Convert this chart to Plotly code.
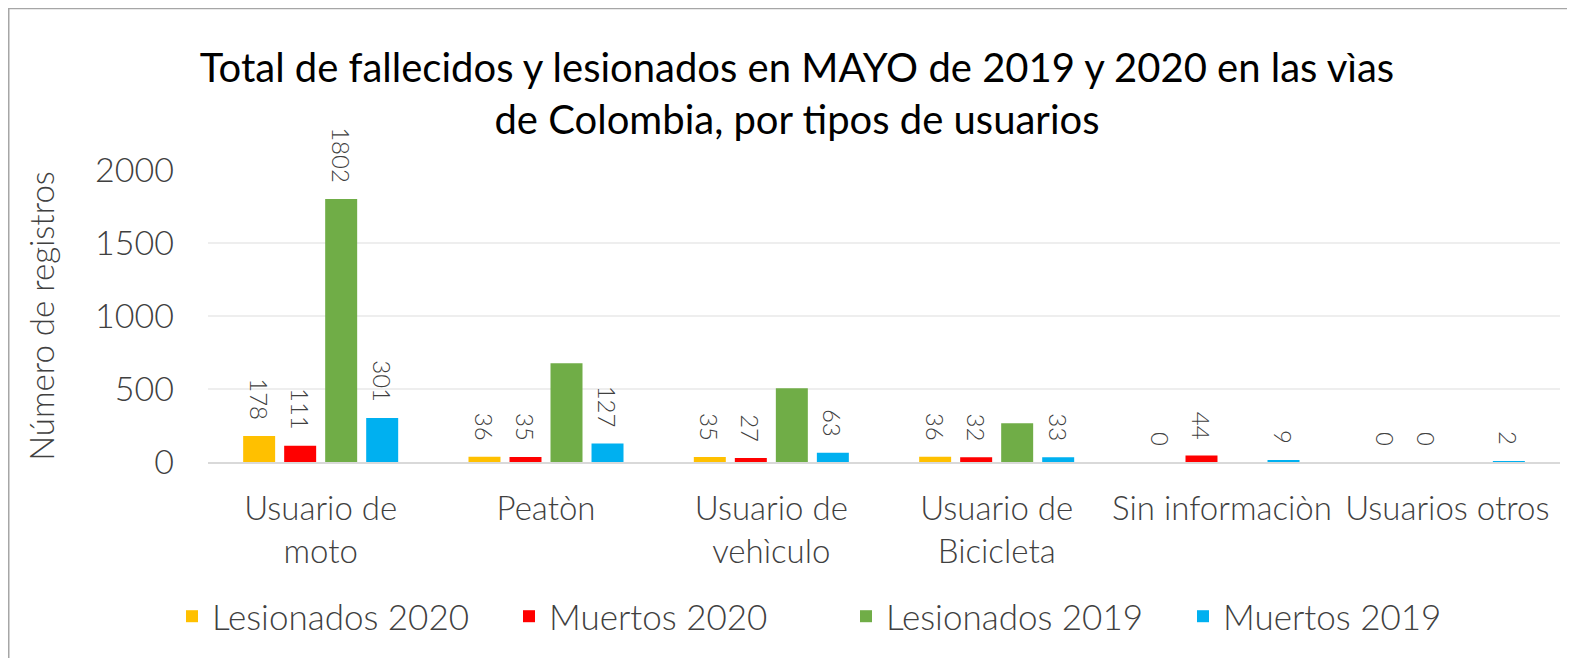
import plotly.graph_objects as go

categories = ["Usuario de<br>moto", "Peatòn", "Usuario de<br>vehìculo",
              "Usuario de<br>Bicicleta", "Sin informaciòn", "Usuarios otros"]
lesionados_2020 = [178, 36, 35, 36, 0, 0]
muertos_2020 = [111, 35, 27, 32, 44, 0]
lesionados_2019 = [1802, 677, 505, 265, 0, 0]
muertos_2019 = [301, 127, 63, 33, 9, 2]
# which data labels are visible for each series
show_les2020 = [True, True, True, True, True, True]
show_mue2020 = [True, True, True, True, True, True]
show_les2019 = [True, False, False, False, False, False]
show_mue2019 = [True, True, True, True, True, True]

series = [
    ("Lesionados 2020", lesionados_2020, show_les2020, "#FFC000"),
    ("Muertos 2020", muertos_2020, show_mue2020, "#FF0000"),
    ("Lesionados 2019", lesionados_2019, show_les2019, "#70AD47"),
    ("Muertos 2019", muertos_2019, show_mue2019, "#00B0F0"),
]

FONT = "Lato"
PAD = "\u00a0\u00a0"

fig = go.Figure()
for name, vals, show, color in series:
    labels = [(str(v) + PAD) if s else "" for v, s in zip(vals, show)]
    fig.add_trace(go.Bar(
        name=name, x=categories, y=vals, marker_color=color,
        marker_line_width=0,
        text=labels, textposition="outside", textangle=90,
        constraintext="none",
        textfont=dict(family=FONT, size=24, color="#404040", weight=300),
        cliponaxis=False,
    ))

W, H = 1567, 650
L, R, T = 200, 15, 162
B = H - 453.7
pw = W - L - R
ph = H - T - B

def px_x(p):
    return (p - L) / pw

def px_y(p):
    return (H - B - p) / ph

fig.update_layout(
    width=W, height=H,
    margin=dict(l=L, r=R, t=T, b=B, autoexpand=False),
    paper_bgcolor="white", plot_bgcolor="white",
    barmode="group", bargap=0.272, bargroupgap=0.22,
    font=dict(family=FONT, color="#595959"),
    title=dict(
        text="Total de fallecidos y lesionados en MAYO de 2019 y 2020 en las vìas<br>de Colombia, por tipos de usuarios",
        x=789 / W, xref="container", xanchor="center",
        y=1 - 74 / H, yref="container", yanchor="middle",
        font=dict(family=FONT, size=40, color="#000000"),
    ),
    xaxis=dict(
        showline=True, linecolor="#d9d9d9", linewidth=2,
        showgrid=False, ticks="", ticklabelstandoff=16,
        tickfont=dict(family=FONT, size=33, color="#404040", weight=300),
    ),
    yaxis=dict(
        range=[0, 2000], tickvals=[0, 500, 1000, 1500, 2000],
        showgrid=True, gridcolor="#eeeeee", gridwidth=2,
        zeroline=False, showline=False, ticks="",
        ticklabelstandoff=33,
        tickfont=dict(family=FONT, size=34, color="#404040", weight=300),
        title=dict(text="Número de registros", standoff=30,
                   font=dict(family=FONT, size=33, color="#404040", weight=300)),
    ),
    legend=dict(
        orientation="h", x=px_x(164), xanchor="left",
        y=px_y(608), yanchor="middle",
        entrywidth=292, entrywidthmode="pixels",
        font=dict(family=FONT, size=35, color="#404040", weight=300),
    ),
    shapes=[dict(
        type="rect", xref="paper", yref="paper",
        x0=px_x(0.5), x1=px_x(1600), y0=px_y(700), y1=px_y(0.5),
        line=dict(color="#a6a6a6", width=2), fillcolor="rgba(0,0,0,0)",
        layer="below",
    )],
)

fig.write_html("out.html")
